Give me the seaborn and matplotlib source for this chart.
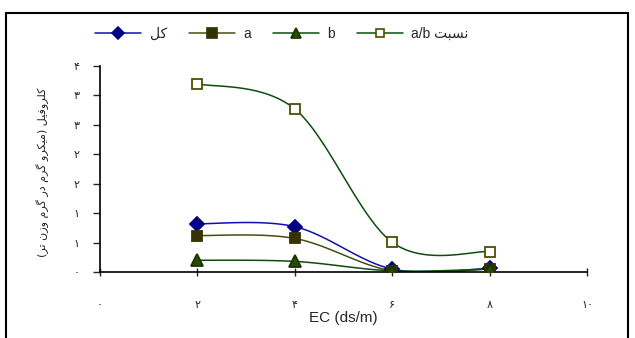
import numpy as np
import pandas as pd
import matplotlib
matplotlib.use("Agg")
import matplotlib.pyplot as plt
import seaborn as sns
from matplotlib.lines import Line2D
from matplotlib.patches import Rectangle

# data
ec = [2, 4, 6, 8]
total = [0.82, 0.77, 0.05, 0.06]
chl_a = [0.62, 0.57, 0.02, 0.05]
chl_b = [0.20, 0.18, 0.02, 0.05]
ratio_ab = [3.20, 2.77, 0.505, 0.345]

y_ticks = [0, 0.5, 1, 1.5, 2, 2.5, 3, 3.5]
y_tick_labels = ["۰", "۱", "۱", "۲", "۲", "۳", "۳", "۴"]
x_ticks = [0, 2, 4, 6, 8, 10]
x_tick_labels = ["۰", "۲", "۴", "۶", "۸", "۱۰"]

# arabic presentation forms: iso, fin, init, med (None = does not join left)
FORMS = {
    "ک": ("\uFB8E", "\uFB8F", "\uFB90", "\uFB91"),
    "گ": ("\uFB92", "\uFB93", "\uFB94", "\uFB95"),
    "ی": ("\uFBFC", "\uFBFD", "\uFBFE", "\uFBFF"),
    "ل": ("\uFEDD", "\uFEDE", "\uFEDF", "\uFEE0"),
    "ف": ("\uFED1", "\uFED2", "\uFED3", "\uFED4"),
    "م": ("\uFEE1", "\uFEE2", "\uFEE3", "\uFEE4"),
    "ن": ("\uFEE5", "\uFEE6", "\uFEE7", "\uFEE8"),
    "ت": ("\uFE95", "\uFE96", "\uFE97", "\uFE98"),
    "ب": ("\uFE8F", "\uFE90", "\uFE91", "\uFE92"),
    "س": ("\uFEB1", "\uFEB2", "\uFEB3", "\uFEB4"),
    "ر": ("\uFEAD", "\uFEAE", None, None),
    "ز": ("\uFEAF", "\uFEB0", None, None),
    "و": ("\uFEED", "\uFEEE", None, None),
    "د": ("\uFEA9", "\uFEAA", None, None),
}


def shape_fa(text):
    """very small persian shaper + reversal, enough for the labels here"""
    out = []
    chars = list(text)
    for i, ch in enumerate(chars):
        if ch not in FORMS:
            out.append(ch)
            continue
        prev = chars[i - 1] if i > 0 else ""
        nxt = chars[i + 1] if i + 1 < len(chars) else ""
        join_prev = prev in FORMS and FORMS[prev][2] is not None
        join_next = nxt in FORMS and FORMS[ch][2] is not None
        f = FORMS[ch]
        if join_prev and join_next:
            out.append(f[3])
        elif join_prev:
            out.append(f[1])
        elif join_next:
            out.append(f[2])
        else:
            out.append(f[0])
    s = "".join(out)[::-1]
    return s.replace(")", "\0").replace("(", ")").replace("\0", "(")


def smooth(xs, ys, n=40):
    # excel style smoothed line (cubic bezier, catmull-rom handles)
    p = np.column_stack([xs, ys]).astype(float)
    pts = []
    for i in range(len(p) - 1):
        p0 = p[i - 1] if i > 0 else p[i]
        p3 = p[i + 2] if i + 2 < len(p) else p[i + 1]
        c1 = p[i] + (p[i + 1] - p0) / 6
        c2 = p[i + 1] - (p3 - p[i]) / 6
        t = np.linspace(0, 1, n)[:, None]
        seg = ((1 - t) ** 3) * p[i] + 3 * (1 - t) ** 2 * t * c1 + 3 * (1 - t) * t ** 2 * c2 + t ** 3 * p[i + 1]
        pts.append(seg if i == 0 else seg[1:])
    pts = np.vstack(pts)
    return pts[:, 0], pts[:, 1]


sns.set_style("white")
plt.rcParams["font.family"] = ["Liberation Sans", "DejaVu Sans"]

fig = plt.figure(figsize=(6.35, 3.38), dpi=100)
ax = fig.add_axes([100 / 635, 66 / 338, 487 / 635, 206 / 338])

series = [
    (shape_fa("کل"), total, "#1010b0", "D", "#000080", "#000080", 7.5),
    ("a", chl_a, "#4a4a18", "s", "#333300", "#333300", 7.5),
    ("b", chl_b, "#0d4d0d", "^", "#264d00", "#1a3300", 8.5),
    ("a/b " + shape_fa("نسبت"), ratio_ab, "#0d4d0d", "s", "white", "#4d4d00", 7),
]

handles = []
for label, vals, lc, mk, mfc, mec, ms in series:
    sx, sy = smooth(ec, vals)
    sns.lineplot(x=sx, y=sy, ax=ax, color=lc, linewidth=1.1, sort=False, legend=False)
    ax.plot(ec, vals, linestyle="none", marker=mk, markersize=ms,
            markerfacecolor=mfc, markeredgecolor=mec, markeredgewidth=1.3, zorder=4)
    handles.append(Line2D([], [], color=lc, linewidth=1.1, marker=mk, markersize=ms - 1,
                          markerfacecolor=mfc, markeredgecolor=mec, markeredgewidth=1.2,
                          label=label))

ax.set_xlim(0, 10)
ax.set_ylim(0, 3.5)
ax.set_xticks(x_ticks)
ax.set_xticklabels(x_tick_labels, fontsize=8, family="DejaVu Sans")
ax.set_yticks(y_ticks)
ax.set_yticklabels(y_tick_labels, fontsize=8, family="DejaVu Sans")
ax.tick_params(axis="x", direction="inout", length=6, width=1, pad=17, bottom=True)
ax.tick_params(axis="y", direction="out", length=5, width=1, pad=10, left=True)
for side in ["top", "right"]:
    ax.spines[side].set_visible(False)
for side in ["left", "bottom"]:
    ax.spines[side].set_color("black")
    ax.spines[side].set_linewidth(1.2)
ax.set_facecolor("white")

ax.set_xlabel("EC (ds/m)", fontsize=11, labelpad=1)
fig.text(43 / 635, 1 - 172 / 338, shape_fa("کلروفیل (میکرو گرم در گرم وزن تر)"),
         rotation=90, ha="center", va="center", fontsize=8, family="DejaVu Sans")

leg = fig.legend(handles=handles, loc="center", bbox_to_anchor=(282 / 635, 1 - 34 / 338),
                 ncol=4, frameon=False, handlelength=3.3, columnspacing=1.6,
                 handletextpad=0.6, prop={"family": ["Liberation Sans", "DejaVu Sans"], "size": 10})

fig.patches.append(Rectangle((6 / 635, -0.1), 622 / 635, 1.1 - 13 / 338,
                             transform=fig.transFigure, fill=False, edgecolor="black",
                             linewidth=1.5))

fig.savefig("out.png", dpi=100)
